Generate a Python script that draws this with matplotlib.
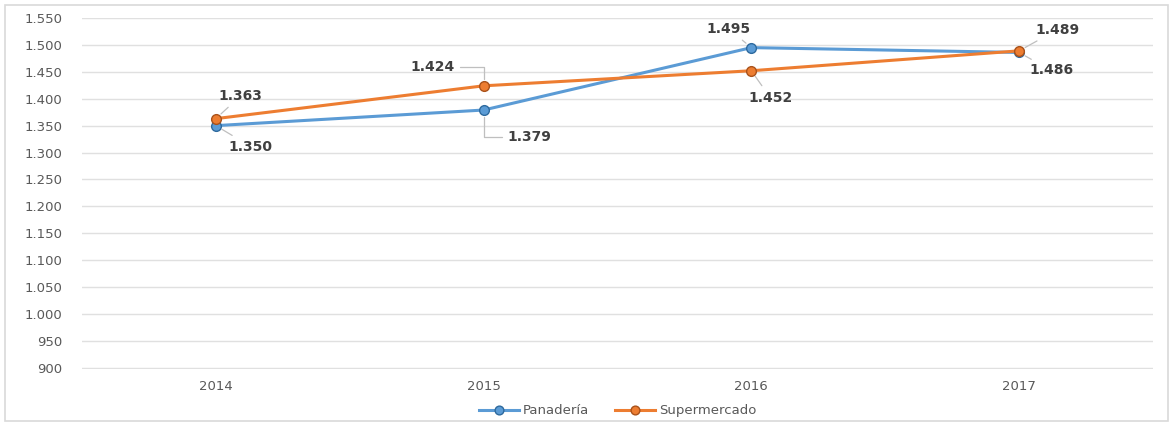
import matplotlib
matplotlib.use("Agg")
import matplotlib.pyplot as plt
from matplotlib.patches import Rectangle
from matplotlib.ticker import FuncFormatter, MultipleLocator

years = ["2014", "2015", "2016", "2017"]
panaderia = [1350, 1379, 1495, 1486]
supermercado = [1363, 1424, 1452, 1489]

blue = "#5B9BD5"
orange = "#ED7D31"

def fmt(v, pos=None):
    return f"{int(round(v)):,}".replace(",", ".")

fig = plt.figure(figsize=(11.71, 4.23), dpi=100)
ax = fig.add_axes([0.070, 0.128, 0.9146, 0.8294])

x = list(range(len(years)))
ax.plot(x, panaderia, color=blue, lw=2.2, marker="o", ms=7,
        mfc=blue, mec="#2E6A9E", mew=1.0, label="Panadería", zorder=3)
ax.plot(x, supermercado, color=orange, lw=2.2, marker="o", ms=7,
        mfc=orange, mec="#A9521B", mew=1.0, label="Supermercado", zorder=3)

ax.set_xlim(-0.5, len(years) - 0.5)
ax.set_ylim(898, 1550)
ax.yaxis.set_major_locator(MultipleLocator(50))
ax.yaxis.set_major_formatter(FuncFormatter(fmt))
ax.set_xticks(x)
ax.set_xticklabels(years)
ax.grid(axis="y", color="#E0E0E0", lw=1)
ax.set_axisbelow(True)
for s in ax.spines.values():
    s.set_visible(False)
ax.tick_params(length=0, colors="#595959", labelsize=9.5)
ax.tick_params(axis="y", pad=14)
ax.tick_params(axis="x", pad=8)

# data labels: (series values, index, dx, dy, connection)
labels = [
    (supermercado, 0, 25, 23, "arc3"),
    (panaderia, 0, 35, -21, "arc3"),
    (supermercado, 1, -51, 19, "angle,angleA=0,angleB=90,rad=0"),
    (panaderia, 1, 46, -27, "angle,angleA=0,angleB=90,rad=0"),
    (panaderia, 2, -23, 19, "arc3"),
    (supermercado, 2, 19, -27, "arc3"),
    (supermercado, 3, 38, 21, "arc3"),
    (panaderia, 3, 32, -18, "arc3"),
]
for vals, i, dx, dy, cs in labels:
    ax.annotate(fmt(vals[i]), xy=(i, vals[i]), xytext=(dx, dy),
                textcoords="offset pixels", ha="center", va="center",
                fontsize=10, fontweight="bold", color="#404040",
                arrowprops=dict(arrowstyle="-", color="#BFBFBF", lw=0.9,
                                shrinkA=2, shrinkB=5, connectionstyle=cs),
                zorder=4)

leg = ax.legend(loc="center", bbox_to_anchor=(0.5, -0.12), ncol=2, frameon=False,
                fontsize=9.5, handlelength=3, columnspacing=2.0, handletextpad=0.3,
                markerscale=0.9)
for t in leg.get_texts():
    t.set_color("#595959")

fig.patches.append(Rectangle((5 / 1171, 2 / 423), 1 - 8 / 1171, 1 - 7 / 423,
                             transform=fig.transFigure, fill=False,
                             edgecolor="#D9D9D9", lw=1.2))

fig.savefig("out.png", dpi=100)
